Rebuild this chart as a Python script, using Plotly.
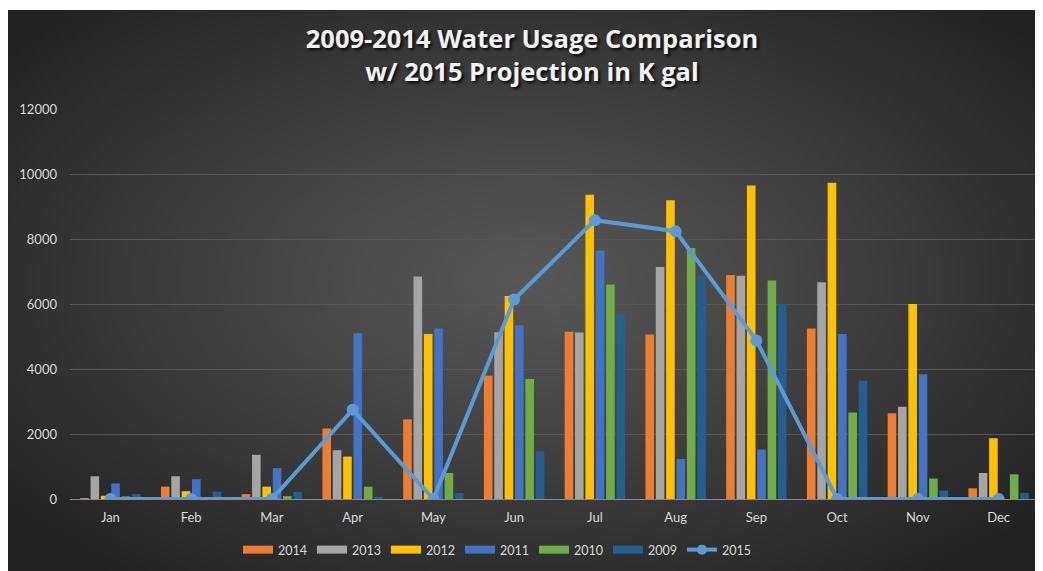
import base64, struct, zlib
import numpy as np
import plotly.graph_objects as go

months = ["Jan", "Feb", "Mar", "Apr", "May", "Jun", "Jul", "Aug", "Sep", "Oct", "Nov", "Dec"]
y2014 = [30, 380, 150, 2170, 2450, 3790, 5150, 5060, 6890, 5250, 2640, 330]
y2013 = [700, 700, 1360, 1500, 6850, 5130, 5120, 7140, 6870, 6670, 2840, 800]
y2012 = [100, 240, 380, 1305, 5080, 6250, 9360, 9190, 9650, 9730, 6000, 1870]
y2011 = [480, 610, 950, 5100, 5250, 5350, 7650, 1230, 1520, 5080, 3840, 0]
y2010 = [80, 0, 90, 380, 800, 3690, 6600, 7720, 6720, 2660, 630, 760]
y2009 = [150, 225, 215, 60, 185, 1470, 5660, 6870, 6000, 3640, 260, 190]
y2015 = [0, 0, 0, 2750, 0, 6140, 8580, 8240, 4880, 0, 0, 0]

bar_series = [
    ("2014", y2014, "#ED7D31"),
    ("2013", y2013, "#A5A5A5"),
    ("2012", y2012, "#FFC000"),
    ("2011", y2011, "#4472C4"),
    ("2010", y2010, "#70AD47"),
    ("2009", y2009, "#255E91"),
]

# --- background radial gradient as an inline PNG ---
def make_png(arr):
    h, w, _ = arr.shape
    raw = b"".join(b"\x00" + arr[i].tobytes() for i in range(h))
    def chunk(tag, data):
        c = struct.pack(">I", len(data)) + tag + data
        return c + struct.pack(">I", zlib.crc32(tag + data) & 0xffffffff)
    png = b"\x89PNG\r\n\x1a\n"
    png += chunk(b"IHDR", struct.pack(">IIBBBBB", w, h, 8, 2, 0, 0, 0))
    png += chunk(b"IDAT", zlib.compress(raw, 9))
    png += chunk(b"IEND", b"")
    return "data:image/png;base64," + base64.b64encode(png).decode()

W, H = 260, 140
xs = (np.arange(W) + 0.5) / W
ys = (np.arange(H) + 0.5) / H
X, Y = np.meshgrid(xs, ys)
r = np.sqrt(((X - 0.5) / 0.5) ** 2 + ((Y - 0.48) / 0.52) ** 2) / 1.3
r = np.clip(r, 0, 1)
center, edge = 88.0, 34.0
v = (center + (edge - center) * r ** 1.1).astype(np.uint8)
img = np.stack([v, v, v], axis=-1)
bg_src = make_png(img)

# page has an 8px body margin, so the figure sits at (8, 8) on the page
FW, FH = 1035, 563
ML, MR, MT, MB = 62, 4, 101, 72
PW, PH = FW - ML - MR, FH - MT - MB

def px_x(px):
    return (px - ML) / PW

def px_y(py):
    return (FH - MB - py) / PH

fig = go.Figure()
for name, vals, col in bar_series:
    fig.add_trace(go.Bar(x=months, y=vals, name=name, showlegend=False,
                         marker=dict(color=col, line=dict(width=0))))

fig.add_trace(go.Scatter(
    x=months, y=y2015, name="2015", mode="lines+markers", showlegend=False,
    line=dict(color="#5B9BD5", width=4),
    marker=dict(color="#5B9BD5", size=12),
))

# legend entries (wide swatches like the original)
for name, vals, col in bar_series:
    fig.add_trace(go.Scatter(x=[None], y=[None], name=name, mode="lines",
                             line=dict(color=col, width=8)))
fig.add_trace(go.Scatter(x=[None], y=[None], name="2015", mode="lines+markers",
                         line=dict(color="#5B9BD5", width=4),
                         marker=dict(color="#5B9BD5", size=10)))

fig.update_layout(
    width=FW, height=FH,
    margin=dict(l=ML, r=MR, t=MT, b=MB, pad=0),
    paper_bgcolor="white",
    plot_bgcolor="rgba(0,0,0,0)",
    barmode="group",
    bargap=0.23,
    bargroupgap=0.17,
    title=dict(
        text="2009-2014 Water Usage Comparison<br>w/ 2015 Projection in K gal",
        x=px_x(524), xref="paper", xanchor="center",
        y=1 - 40 / FH, yref="container", yanchor="middle",
        font=dict(family="Open Sans", size=25.5, color="#f2f2f2", weight="bold",
                  shadow="2px 2px 3px rgba(0,0,0,0.85)"),
    ),
    font=dict(family="Lato", color="#d9d9d9", size=13),
    images=[dict(
        source=bg_src, xref="paper", yref="paper",
        x=px_x(0), y=px_y(2), sizex=FW / PW, sizey=(FH - 2) / PH,
        xanchor="left", yanchor="top", sizing="stretch", layer="below",
    )],
    xaxis=dict(
        range=[-0.5, 11.5],
        showgrid=False, zeroline=False, showline=True, linecolor="#8a8a8a", linewidth=1,
        ticks="", tickfont=dict(family="Lato", size=13, color="#d9d9d9"),
        ticklabelstandoff=6,
    ),
    yaxis=dict(
        range=[0, 12000], dtick=2000, tickformat="d", showgrid=True,
        gridcolor="#575757", gridwidth=1,
        zeroline=False, showline=False, ticks="",
        tickfont=dict(family="Lato", size=13, color="#d9d9d9"),
        ticklabelstandoff=12,
    ),
    legend=dict(
        orientation="h", x=px_x(489), xanchor="center", y=px_y(542), yanchor="middle",
        font=dict(family="Lato", size=12.5, color="#d9d9d9"),
        bgcolor="rgba(0,0,0,0)", traceorder="normal", itemwidth=30,
    ),
    showlegend=True,
)

fig.write_html(
    "out.html",
    post_script="document.documentElement.style.overflow='hidden';document.body.style.overflow='hidden';",
)
